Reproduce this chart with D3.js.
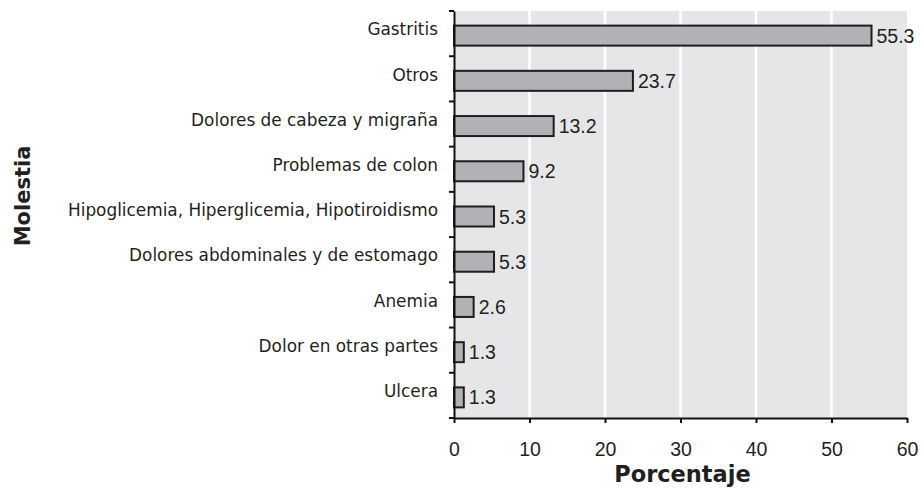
<!DOCTYPE html>
<html><head><meta charset="utf-8">
<script src="https://cdn.jsdelivr.net/npm/d3@7"></script>
<style>body{margin:0;background:#fff}</style>
</head><body>
<svg id="c" width="921" height="494"></svg>
<script>
const categories = ["Gastritis","Otros","Dolores de cabeza y migraña","Problemas de colon","Hipoglicemia, Hiperglicemia, Hipotiroidismo","Dolores abdominales y de estomago","Anemia","Dolor en otras partes","Ulcera"];
const values = [55.3,23.7,13.2,9.2,5.3,5.3,2.6,1.3,1.3];
const xTicks = [0,10,20,30,40,50,60];

const numFont = "'Liberation Sans', Arimo, Arial, sans-serif";
const txtFont = "'DejaVu Sans', sans-serif";
const ink = "#231f20";

const svg = d3.select("#c");
const m = {l:454, r:907, t:11, b:418};
const x = d3.scaleLinear().domain([0,60]).range([m.l, m.r]);
const y = d3.scaleBand().domain(categories).range([m.t, m.b]);

svg.append("rect").attr("x",m.l).attr("y",m.t).attr("width",m.r-m.l).attr("height",m.b-m.t).attr("fill","#e6e6e8");
svg.append("g").selectAll("line").data(xTicks.slice(1,-1)).join("line")
  .attr("x1",d=>x(d)).attr("x2",d=>x(d)).attr("y1",m.t).attr("y2",m.b)
  .attr("stroke","#fff").attr("stroke-width",2.5);

const bh = 20;
svg.append("g").selectAll("rect").data(values).join("rect")
  .attr("x",x(0)).attr("y",(d,i)=>y(categories[i])+y.bandwidth()/2-bh/2+2)
  .attr("width",d=>x(d)-x(0)).attr("height",bh)
  .attr("fill","#b2b2b6").attr("stroke","#1e1e1e").attr("stroke-width",2);

svg.append("g").selectAll("text").data(values).join("text")
  .attr("x",d=>x(d)+5).attr("y",(d,i)=>y(categories[i])+y.bandwidth()/2+2)
  .attr("dy","0.36em")
  .style("font-family",numFont).style("font-size","19.5px").attr("fill",ink)
  .text(d=>d.toFixed(1));

// x axis
const xa = svg.append("g").attr("transform",`translate(0,${m.b})`)
  .call(d3.axisBottom(x).tickValues(xTicks).tickSize(5).tickSizeOuter(0).tickPadding(19));
xa.select(".domain").attr("stroke","#111").attr("stroke-width",2);
xa.selectAll(".tick line").attr("stroke","#111").attr("stroke-width",2);
xa.selectAll("text").style("font-family",numFont).style("font-size","19.5px").attr("fill",ink);

// y axis
const ya = svg.append("g").attr("transform",`translate(${m.l},0)`)
  .call(d3.axisLeft(y).tickSize(0).tickPadding(16));
ya.select(".domain").attr("stroke","#111").attr("stroke-width",2);
ya.selectAll("text").style("font-family",txtFont).style("font-size","16.9px").attr("fill",ink).attr("dy","0.1em");
const bounds = categories.map(c=>y(c)).concat([m.b]);
svg.append("g").selectAll("line").data(bounds).join("line")
  .attr("x1",m.l-5).attr("x2",m.l).attr("y1",d=>d).attr("y2",d=>d)
  .attr("stroke","#111").attr("stroke-width",2);

svg.append("text").attr("x",(m.l+m.r)/2+2).attr("y",482).attr("text-anchor","middle")
  .style("font-family",txtFont).attr("font-weight","bold").style("font-size","22.5px").attr("fill",ink)
  .text("Porcentaje");
svg.append("text").attr("transform","translate(30,196) rotate(-90)").attr("text-anchor","middle")
  .style("font-family",txtFont).attr("font-weight","bold").style("font-size","21px").attr("fill",ink)
  .text("Molestia");
</script>
</body></html>
